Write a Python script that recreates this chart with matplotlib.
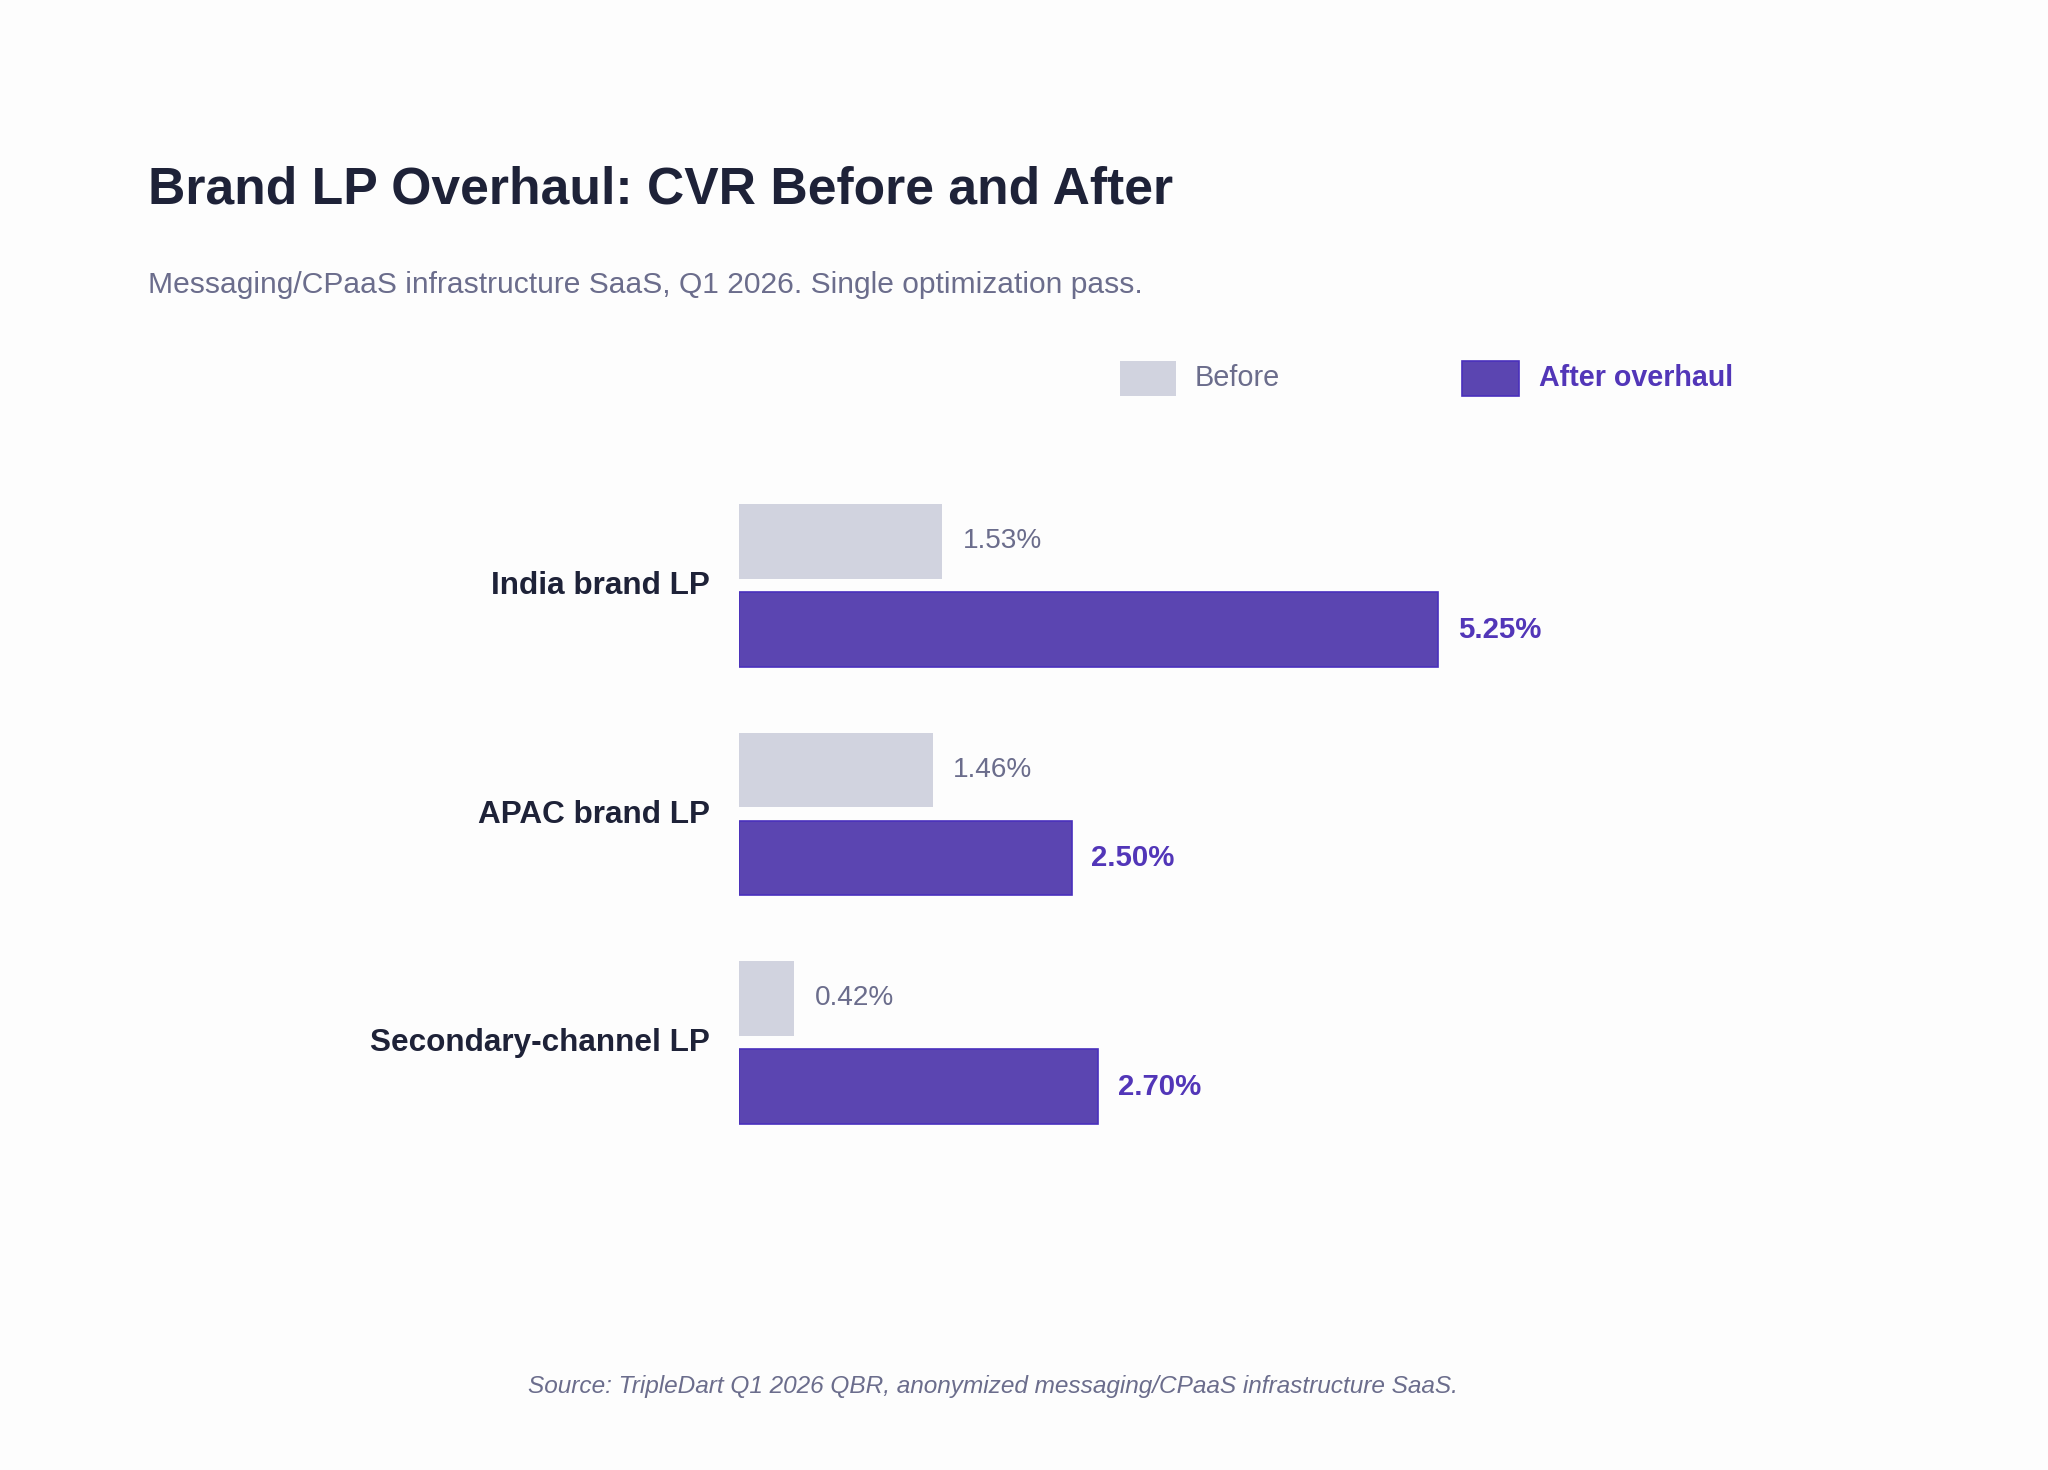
import matplotlib.pyplot as plt
from matplotlib.patches import Rectangle
from matplotlib.transforms import ScaledTranslation

plt.rcParams['font.family'] = ['Liberation Sans', 'DejaVu Sans']

categories = ['India brand LP', 'APAC brand LP', 'Secondary-channel LP']
before = [1.53, 1.46, 0.42]
after = [5.25, 2.50, 2.70]
series_names = ['Before', 'After overhaul']

title = 'Brand LP Overhaul: CVR Before and After'
subtitle = 'Messaging/CPaaS infrastructure SaaS, Q1 2026. Single optimization pass.'
source = 'Source: TripleDart Q1 2026 QBR, anonymized messaging/CPaaS infrastructure SaaS.'

c_before = '#d1d3df'
c_after = '#5b45b1'
c_after_edge = '#4a30bd'
c_after_text = '#5236b8'
c_gray_text = '#6b6d8c'
c_dark = '#1e2238'

W, H = 2048, 1470


def fx(x):
    return x / W


def fy(y):
    return 1 - y / H


fig = plt.figure(figsize=(10.24, 7.35), dpi=200)
fig.patch.set_facecolor('#fdfdfd')

ax = fig.add_axes([fx(738.5), fy(1156.75), 933 / W, 685.5 / H])
ax.set_facecolor('#fdfdfd')

ys = list(range(len(categories)))
bh = 0.328
off = 0.1926

ax.barh([y - off for y in ys], before, height=bh, color=c_before, linewidth=0)
ax.barh([y + off for y in ys], after, height=bh, color=c_after,
        edgecolor=c_after_edge, linewidth=0.6)

for y, v in zip(ys, before):
    ax.annotate(f'{v:.2f}%', (v, y - off), xytext=(7.3, 0), textcoords='offset points',
                ha='left', va='center', fontsize=10.1, color=c_gray_text)
for y, v in zip(ys, after):
    ax.annotate(f'{v:.2f}%', (v, y + off), xytext=(7.0, 0), textcoords='offset points',
                ha='left', va='center', fontsize=10.6, color=c_after_text,
                fontweight='bold')

ax.set_xlim(0, 7)
ax.set_ylim(2.5, -0.5)
ax.set_yticks(ys, categories)
ax.tick_params(axis='y', length=0, pad=10.2, labelsize=11.35, labelcolor=c_dark)
nudge = ScaledTranslation(0, 2.6 / 200, fig.dpi_scale_trans)
for lab in ax.get_yticklabels():
    lab.set_fontweight('bold')
    lab.set_transform(lab.get_transform() + nudge)
ax.set_xticks([])
for s in ax.spines.values():
    s.set_visible(False)

# title block
fig.text(fx(148), fy(204), title, fontsize=18.6, fontweight='bold', color=c_dark,
         ha='left', va='baseline')
fig.text(fx(148), fy(293), subtitle, fontsize=10.8, color=c_gray_text,
         ha='left', va='baseline')

# legend
fig.add_artist(Rectangle((fx(1120), fy(396)), 56 / W, 35 / H, transform=fig.transFigure,
                         facecolor=c_before, linewidth=0))
fig.text(fx(1195), fy(386), series_names[0], fontsize=10.4, color=c_gray_text,
         ha='left', va='baseline')
fig.add_artist(Rectangle((fx(1462), fy(396)), 57 / W, 35 / H, transform=fig.transFigure,
                         facecolor=c_after, edgecolor=c_after_edge, linewidth=0.6))
fig.text(fx(1539), fy(386), series_names[1], fontsize=10.3, color=c_after_text,
         fontweight='bold', ha='left', va='baseline')

fig.text(fx(993), fy(1393), source, fontsize=8.8, color=c_gray_text, style='italic',
         ha='center', va='baseline')

fig.savefig('out.png', dpi=200, facecolor=fig.get_facecolor())
